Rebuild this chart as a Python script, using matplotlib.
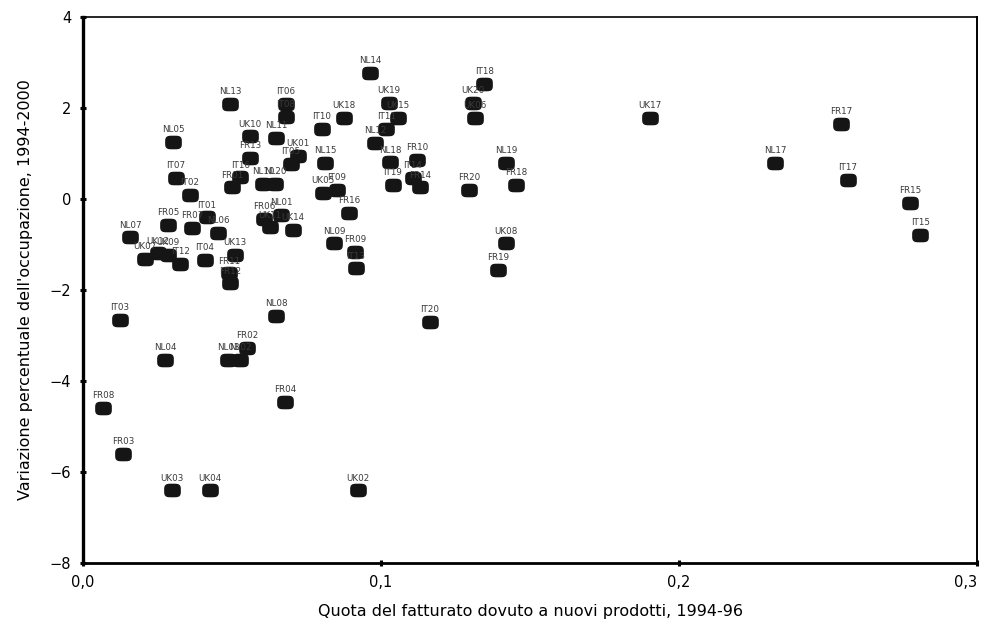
import matplotlib
matplotlib.use("Agg")
import matplotlib.pyplot as plt
import numpy as np
from matplotlib.path import Path

# sector labels, share of turnover from new products (x), employment change (y)
labels = [
    "NL14", "IT18", "NL13", "IT06", "UK19", "UK20", "UK17", "FR17",
    "IT08", "UK18", "UK15", "UK06", "IT10", "IT11", "NL05", "UK10",
    "NL11", "NL12", "UK01", "IT05", "FR13", "NL15", "NL18", "FR10",
    "NL19", "NL17", "IT07", "IT16", "FR01", "NL10", "NL20", "IT19",
    "IT14", "FR14", "IT17", "FR18", "FR20", "UK05", "IT09", "IT02",
    "FR15", "FR16", "FR06", "NL01", "UK11", "IT01", "FR05", "FR07",
    "NL06", "UK14", "NL07", "IT15", "NL09", "UK08", "UK07", "UK12",
    "UK09", "IT12", "IT04", "UK13", "FR11", "FR12", "FR09", "IT13",
    "FR19", "IT03", "NL08", "IT20", "FR02", "NL04", "NL03", "NL02",
    "FR04", "FR08", "FR03", "UK03", "UK04", "UK02",
]
quota = [
    0.0963, 0.1346, 0.0493, 0.0681, 0.1027, 0.1309, 0.1903, 0.2544,
    0.0681, 0.0876, 0.1057, 0.1315, 0.0802, 0.1017, 0.0302, 0.0560,
    0.0648, 0.0980, 0.0721, 0.0698, 0.0560, 0.0812, 0.1030, 0.1121,
    0.1419, 0.2322, 0.0312, 0.0527, 0.0500, 0.0604, 0.0644, 0.1040,
    0.1107, 0.1131, 0.2567, 0.1453, 0.1295, 0.0805, 0.0852, 0.0359,
    0.2775, 0.0893, 0.0607, 0.0664, 0.0628, 0.0416, 0.0285, 0.0366,
    0.0453, 0.0705, 0.0158, 0.2809, 0.0842, 0.1419, 0.0208, 0.0252,
    0.0285, 0.0326, 0.0409, 0.0510, 0.0490, 0.0493, 0.0913, 0.0916,
    0.1393, 0.0124, 0.0648, 0.1164, 0.0550, 0.0275, 0.0487, 0.0527,
    0.0678, 0.0067, 0.0134, 0.0299, 0.0426, 0.0923,
]
variazione = [
    2.77, 2.53, 2.09, 2.09, 2.11, 2.11, 1.78, 1.65,
    1.80, 1.78, 1.78, 1.78, 1.54, 1.54, 1.25, 1.38,
    1.34, 1.23, 0.95, 0.77, 0.90, 0.79, 0.81, 0.86,
    0.79, 0.79, 0.46, 0.48, 0.26, 0.33, 0.33, 0.31,
    0.46, 0.26, 0.42, 0.31, 0.20, 0.13, 0.20, 0.09,
    -0.09, -0.31, -0.44, -0.35, -0.62, -0.40, -0.57, -0.64,
    -0.75, -0.68, -0.84, -0.79, -0.97, -0.97, -1.32, -1.19,
    -1.23, -1.43, -1.34, -1.23, -1.63, -1.85, -1.16, -1.52,
    -1.56, -2.66, -2.57, -2.70, -3.27, -3.54, -3.54, -3.54,
    -4.46, -4.59, -5.60, -6.40, -6.40, -6.40,
]

xticks = [0.0, 0.1, 0.2, 0.3]
xticklabels = ["0,0", "0,1", "0,2", "0,3"]
yticks = [4, 2, 0, -2, -4, -6, -8]
yticklabels = ["4", "2", "0", "\u22122", "\u22124", "\u22126", "\u22128"]

# rounded, slightly flat marker like the printed blobs
t = np.linspace(0, 2 * np.pi, 60)
n = 4.0
mx = 1.25 * np.sign(np.cos(t)) * np.abs(np.cos(t)) ** (2 / n)
my = np.sign(np.sin(t)) * np.abs(np.sin(t)) ** (2 / n)
blob = Path(np.column_stack([mx, my]))

fam = ["DejaVu Sans"]

fig = plt.figure(figsize=(9.84, 6.23), dpi=100)
ax = fig.add_axes([0.0844, 0.0963, 0.9086, 0.8764])

ax.plot(quota, variazione, ls="none", marker=blob, ms=11,
        color="#151515", mec="#151515")

for lab, xv, yv in zip(labels, quota, variazione):
    ax.annotate(lab, (xv, yv), xytext=(0, 5.5), textcoords="offset points",
                ha="center", va="bottom", fontsize=6.3, color="#3a3a3a",
                family="DejaVu Sans")

ax.set_xlim(0, 0.3)
ax.set_ylim(-8, 4)
ax.set_xticks(xticks)
ax.set_xticklabels(xticklabels, family=fam, fontsize=10.5)
ax.get_xticklabels()[-1].set_horizontalalignment("right")
ax.set_yticks(yticks)
ax.set_yticklabels(yticklabels, family=fam, fontsize=10.5)
ax.tick_params(direction="inout", length=5, width=2.2, pad=6)

ax.spines["left"].set_linewidth(2.4)
ax.spines["bottom"].set_linewidth(2.0)
ax.spines["top"].set_linewidth(1.2)
ax.spines["right"].set_linewidth(1.4)

ax.set_xlabel("Quota del fatturato dovuto a nuovi prodotti, 1994-96",
              family=fam, fontsize=11.5, labelpad=10)
ax.set_ylabel("Variazione percentuale dell'occupazione, 1994-2000",
              family=fam, fontsize=11.5, labelpad=12)

fig.savefig("out.png", dpi=100)
